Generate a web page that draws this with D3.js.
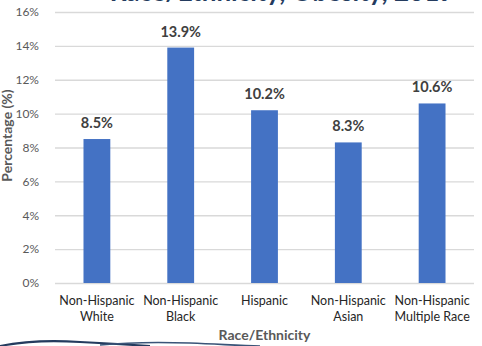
<!DOCTYPE html>
<html>
<head>
<meta charset="utf-8">
<script src="https://cdn.jsdelivr.net/npm/d3@7"></script>
<style>
  body { margin: 0; background: #fff; }
  svg { display: block; font-family: Lato, "Open Sans", sans-serif; }
</style>
</head>
<body>
<svg id="chart"></svg>
<script>
var svgWidth = 482;
var svgHeight = 346;

// data
var categories = ["Non-Hispanic White", "Non-Hispanic Black", "Hispanic", "Non-Hispanic Asian", "Non-Hispanic Multiple Race"];
var catLines = [["Non-Hispanic", "White"], ["Non-Hispanic", "Black"], ["Hispanic"], ["Non-Hispanic", "Asian"], ["Non-Hispanic", "Multiple Race"]];
var values = [8.5, 13.9, 10.2, 8.3, 10.6];
var yTicks = [0, 2, 4, 6, 8, 10, 12, 14, 16];

var margin = { top: 12, right: 8, bottom: 63, left: 55 };
var width = svgWidth - margin.left - margin.right;
var height = svgHeight - margin.top - margin.bottom;

var svg = d3.select("#chart")
  .attr("width", svgWidth)
  .attr("height", svgHeight);

// title, cut off at the top of the frame like in the source
svg.append("text")
  .attr("x", 282)
  .attr("y", 1)
  .attr("text-anchor", "middle")
  .style("font-size", "26px")
  .style("font-weight", "bold")
  .style("fill", "#243B5E")
  .text("Race/Ethnicity, Obesity, 2019");

var g = svg.append("g")
  .attr("transform", "translate(" + margin.left + "," + margin.top + ")");

var x = d3.scaleBand()
  .domain(categories)
  .range([0, width])
  .paddingInner(0.68)
  .paddingOuter(0.34);

var y = d3.scaleLinear()
  .domain([0, 16])
  .range([height, 0]);

// gridlines
g.append("g")
  .selectAll("line")
  .data(yTicks)
  .enter()
  .append("line")
    .attr("x1", 0)
    .attr("x2", width)
    .attr("y1", function(d) { return y(d) + 0.5; })
    .attr("y2", function(d) { return y(d) + 0.5; })
    .style("stroke", "#d9d9d9")
    .style("stroke-width", 1.3);

// y axis labels
var yAxis = g.append("g")
  .attr("transform", "translate(-13,0)")
  .call(d3.axisLeft(y).tickValues(yTicks).tickSize(0).tickFormat(function(d) { return d + "%"; }));
yAxis.select(".domain").remove();
yAxis.selectAll("text")
  .style("font-family", "Lato, sans-serif")
  .style("font-size", "12px")
  .style("fill", "#595959");

// bars
g.append("g")
  .selectAll("rect")
  .data(values)
  .enter()
  .append("rect")
    .attr("x", function(d, i) { return x(categories[i]); })
    .attr("y", function(d) { return y(d); })
    .attr("width", x.bandwidth())
    .attr("height", function(d) { return height - y(d); })
    .style("fill", "#4472C4");

// value labels
g.append("g")
  .selectAll("text")
  .data(values)
  .enter()
  .append("text")
    .attr("x", function(d, i) { return x(categories[i]) + x.bandwidth() / 2; })
    .attr("y", function(d) { return y(d) - 11; })
    .attr("text-anchor", "middle")
    .style("font-size", "14.5px")
    .style("font-weight", "bold")
    .style("fill", "#404040")
    .text(function(d) { return d.toFixed(1) + "%"; });

// category labels
var cat = g.append("g")
  .selectAll("text")
  .data(catLines)
  .enter()
  .append("text")
    .attr("x", function(d, i) { return x(categories[i]) + x.bandwidth() / 2; })
    .attr("y", height + 22)
    .attr("text-anchor", "middle")
    .style("font-size", "12.5px")
    .style("fill", "#262626");
cat.selectAll("tspan")
  .data(function(d) { return d; })
  .enter()
  .append("tspan")
    .attr("x", function() { return this.parentNode.getAttribute("x"); })
    .attr("dy", function(d, i) { return i === 0 ? 0 : 16; })
    .text(function(d) { return d; });

// axis titles
svg.append("text")
  .attr("x", margin.left + width / 2)
  .attr("y", 340)
  .attr("text-anchor", "middle")
  .style("font-size", "14px")
  .style("font-weight", "bold")
  .style("fill", "#595959")
  .text("Race/Ethnicity");

svg.append("text")
  .attr("transform", "translate(12," + (margin.top + height / 2 - 12) + ") rotate(-90)")
  .attr("text-anchor", "middle")
  .style("font-size", "14px")
  .style("font-weight", "bold")
  .style("fill", "#595959")
  .text("Percentage (%)");

// decorative swoosh at the bottom left
svg.append("path")
  .attr("d", "M0,346 C20,342 50,340 80,342 C100,343 120,344 150,346")
  .style("fill", "none")
  .style("stroke", "#243B5E")
  .style("stroke-width", 2.2);
svg.append("path")
  .attr("d", "M100,345 C130,342 160,342 190,343 C220,344 240,346 260,346")
  .style("fill", "none")
  .style("stroke", "#3A5478")
  .style("stroke-width", 1.6);
</script>
</body>
</html>
